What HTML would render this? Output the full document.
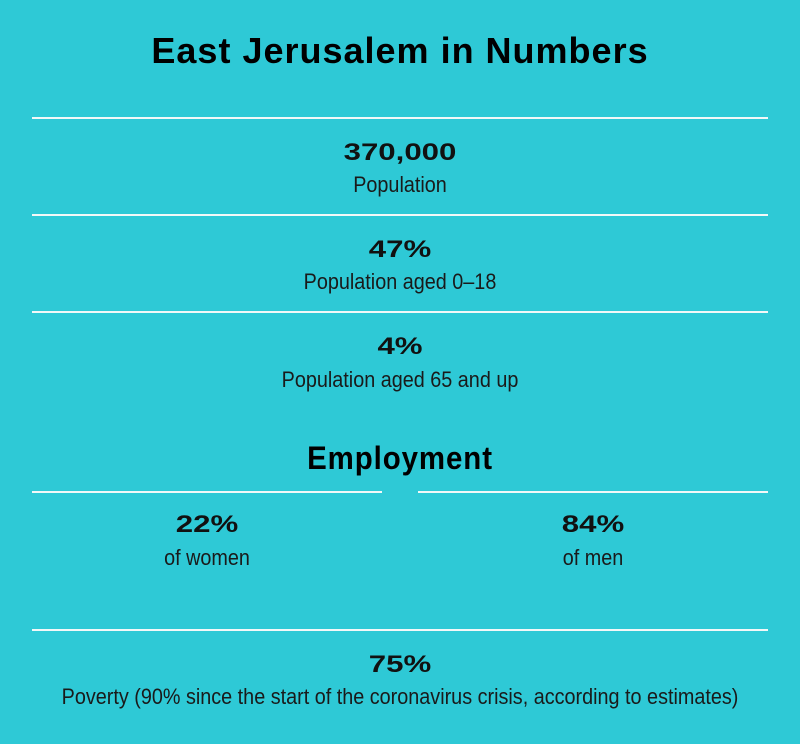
<!DOCTYPE html>
<html><head><meta charset="utf-8"><style>
body{margin:0;width:800px;height:744px;background:#2ec9d6;position:relative;overflow:hidden;font-family:"Liberation Sans",sans-serif;color:#111}
.t{position:absolute;white-space:nowrap;transform:translateX(-50%) scaleX(0.9);transform-origin:center}
.title{font-weight:bold;font-size:36px;color:#000;transform:translateX(-50%) scaleX(1.0);letter-spacing:1px}
.num{font-weight:bold;font-size:24px;transform:translateX(-50%) scaleX(1.3)}
.lab{font-size:22px;color:#1a1a1a}
.line{position:absolute;height:2px;background:#f2f8f8}
</style></head><body>
<div class="t title" style="left:400px;top:30px">East Jerusalem in Numbers</div>
<div class="line" style="left:32px;width:736px;top:117px"></div>
<div class="t num" style="left:400px;top:139px">370,000</div>
<div class="t lab" style="left:400px;top:172px">Population</div>
<div class="line" style="left:32px;width:736px;top:214px"></div>
<div class="t num" style="left:400px;top:236px">47%</div>
<div class="t lab" style="left:400px;top:269px">Population aged 0–18</div>
<div class="line" style="left:32px;width:736px;top:311px"></div>
<div class="t num" style="left:400px;top:333px">4%</div>
<div class="t lab" style="left:400px;top:367px">Population aged 65 and up</div>
<div class="t title" style="left:400px;top:440px;font-size:32px;transform:translateX(-50%) scaleX(0.92)">Employment</div>
<div class="line" style="left:32px;width:350px;top:491px"></div>
<div class="line" style="left:418px;width:350px;top:491px"></div>
<div class="t num" style="left:207px;top:511px">22%</div>
<div class="t lab" style="left:207px;top:545px">of women</div>
<div class="t num" style="left:593px;top:511px">84%</div>
<div class="t lab" style="left:593px;top:545px">of men</div>
<div class="line" style="left:32px;width:736px;top:629px"></div>
<div class="t num" style="left:400px;top:651px">75%</div>
<div class="t lab" style="left:400px;top:684px">Poverty (90% since the start of the coronavirus crisis, according to estimates)</div>
</body></html>
